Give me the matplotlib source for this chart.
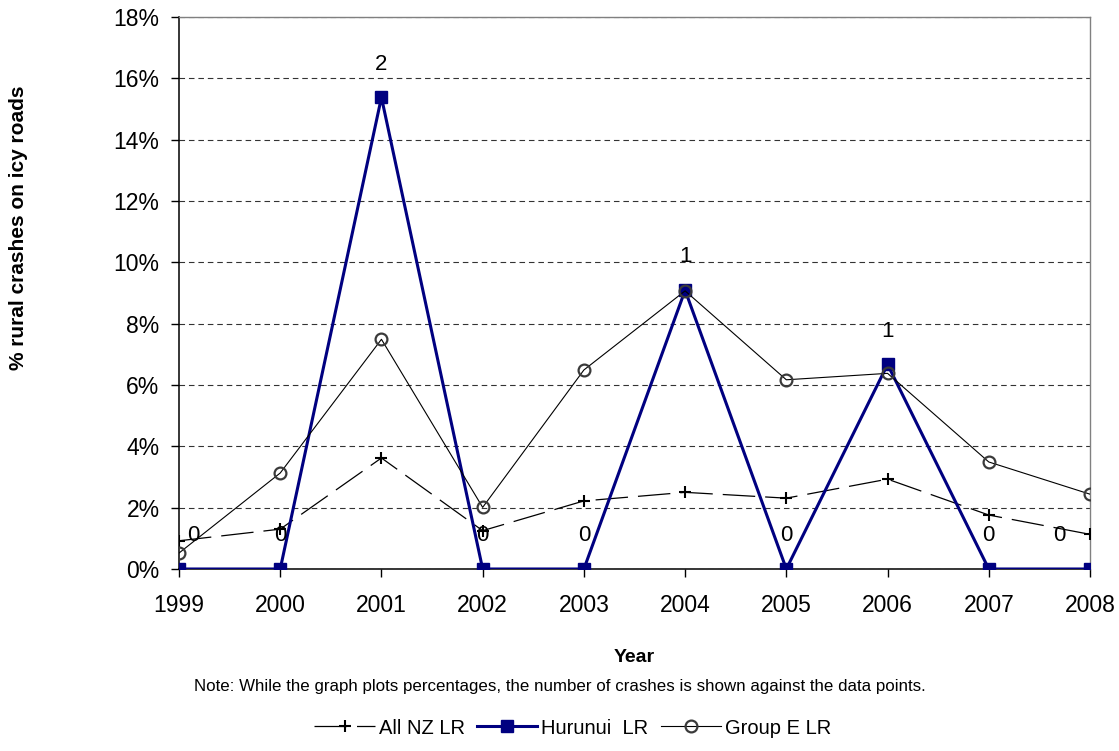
import matplotlib
matplotlib.use("Agg")
import matplotlib.pyplot as plt
from matplotlib.ticker import FuncFormatter, MultipleLocator

plt.rcParams['font.family'] = ['Liberation Sans', 'DejaVu Sans']

years = [1999, 2000, 2001, 2002, 2003, 2004, 2005, 2006, 2007, 2008]
all_nz = [0.92, 1.30, 3.62, 1.25, 2.22, 2.50, 2.31, 2.93, 1.76, 1.13]
hurunui = [0.0, 0.0, 15.38, 0.0, 0.0, 9.09, 0.0, 6.67, 0.0, 0.0]
group_e = [0.52, 3.13, 7.49, 2.01, 6.49, 9.07, 6.17, 6.38, 3.49, 2.44]
hurunui_counts = ["0", "0", "2", "0", "0", "1", "0", "1", "0", "0"]

fig = plt.figure(figsize=(11.19, 7.51), dpi=100)
ax = fig.add_axes([179/1119, 1-569/751, (1090-179)/1119, (569-17)/751])

ax.plot(years, all_nz, color='black', lw=0.9, dashes=(26, 8), marker='+',
        ms=9, mew=1.5, label='All NZ LR', zorder=3)
ax.plot(years, hurunui, color='#000080', lw=2.2, marker='s', ms=9,
        mfc='#000080', mec='#000080', label='Hurunui  LR', zorder=4)
ax.plot(years, group_e, color='black', lw=0.8, marker='o', ms=8.5,
        mfc='none', mec='#3a3a3a', mew=1.6, label='Group E LR', zorder=5)

for i, (x, y, t) in enumerate(zip(years, hurunui, hurunui_counts)):
    dx = 0
    if i == 0:
        dx = 10
    elif i == len(years) - 1:
        dx = -22
    ax.annotate(t, (x, y), xytext=(dx, 24), textcoords='offset points',
                ha='center', va='center', fontsize=16, zorder=6,
                annotation_clip=False)

ax.set_xlim(1999, 2008)
ax.set_ylim(0, 18)
ax.set_xticks(years)
ax.yaxis.set_major_locator(MultipleLocator(2))
ax.yaxis.set_major_formatter(FuncFormatter(lambda v, p: f"{v:.0f}%"))
ax.tick_params(axis='both', labelsize=16.5, direction='out', length=6,
               width=1, colors='black')
ax.tick_params(axis='x', pad=12)
ax.tick_params(axis='y', pad=8)
ax.grid(axis='y', color='black', ls=(0, (5, 3.5)), lw=0.8, alpha=0.8)
ax.set_axisbelow(True)
for s in ['left', 'bottom']:
    ax.spines[s].set_color('black')
    ax.spines[s].set_linewidth(1.1)
for s in ['top', 'right']:
    ax.spines[s].set_color('#808080')
    ax.spines[s].set_linewidth(1.0)

ax.set_xlabel('Year', fontsize=14, fontweight='bold')
ax.xaxis.set_label_coords(0.5, (569-658)/552)
ax.xaxis.label.set_va('center')
ax.set_ylabel('% rural crashes on icy roads', fontsize=15,
              fontweight='bold')
ax.yaxis.set_label_coords((19-179)/911, (569-228)/552)
ax.yaxis.label.set_va('center')
fig.text(0.5, 1-686/751, 'Note: While the graph plots percentages, the number of crashes is shown against the data points.',
         ha='center', va='center', fontsize=12.2)

fig.legend(loc='center', bbox_to_anchor=(0.512, 1-728/751), ncol=3,
           frameon=False, fontsize=14.5, handlelength=3.0, columnspacing=0.6,
           handletextpad=0.2)

fig.savefig('out.png', dpi=100)
